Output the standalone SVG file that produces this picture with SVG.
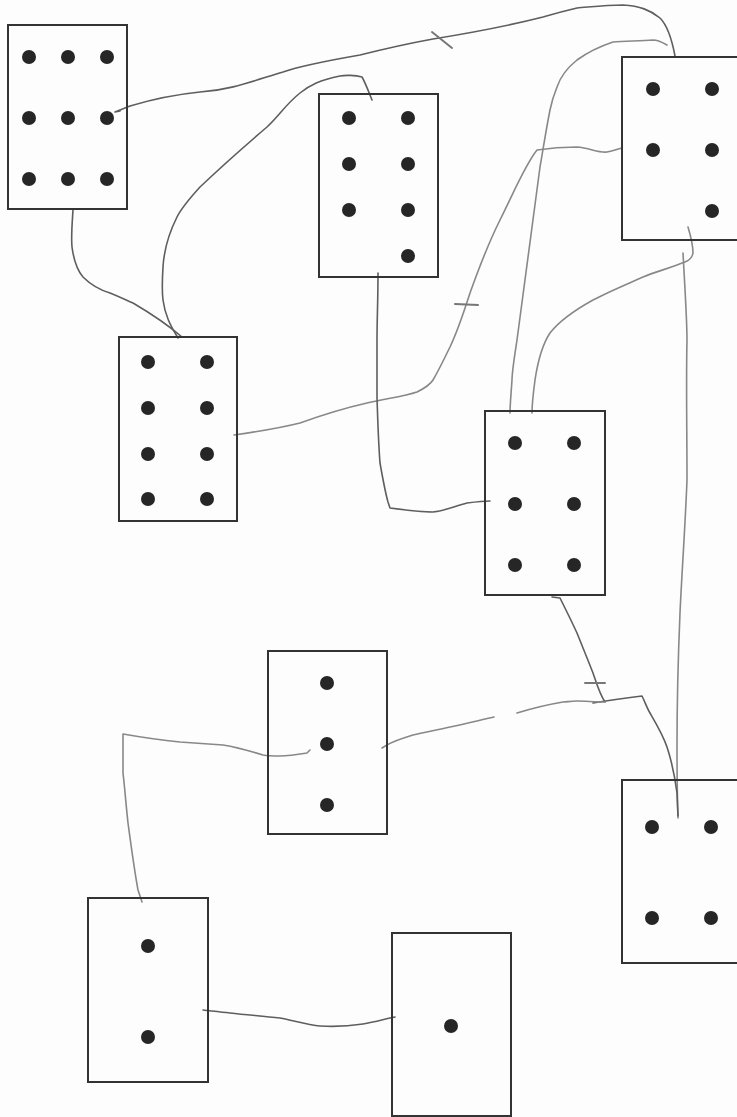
<svg xmlns="http://www.w3.org/2000/svg" width="737" height="1117" viewBox="0 0 737 1117">
<style>
.box{fill:none;stroke:#333;stroke-width:2}
.dot{fill:#262626}
.wire{fill:none;stroke:#888;stroke-width:1.6;stroke-linecap:round;stroke-linejoin:round}
.dark{stroke:#5e5e5e}
.tick{fill:none;stroke:#777;stroke-width:2;stroke-linecap:round}
</style>
<rect width="737" height="1117" fill="#fdfdfd"/>
<g id="connectors">
<path class="wire dark" d="M675,56 C672,40 668,26 660,18 C650,10 640,6 623,5 C605,5 590,7 577,8 C560,12 550,15 543,17 C500,28 470,33 433,39 C400,45 380,50 360,55 C320,62 300,66 283,72 C250,82 230,90 200,92 C170,95 150,100 130,106 L115,112 L120,111"/>
<path class="tick" d="M432,32 L452,48"/>
<path class="wire dark" d="M372,100 C368,90 365,82 362,77 C355,75 345,75 340,76 C320,80 310,85 300,93 C285,105 280,115 267,127 C240,150 220,168 200,187 C190,198 182,207 177,217 C168,235 164,250 163,267 C162,283 162,292 163,300 C165,315 170,325 178,338"/>
<path class="wire dark" d="M73,210 C72,225 71,237 72,247 C74,262 77,270 83,277 C92,286 100,290 110,293 C120,297 126,300 133,303 C150,313 168,325 182,337"/>
<path class="wire" d="M234,435 C255,432 280,428 300,423 C325,414 345,408 367,403 C390,398 405,396 417,392 C425,388 430,385 433,380 C440,368 445,357 450,347 C458,330 462,318 470,293 C480,265 490,240 500,220 C515,190 525,165 537,150 C550,148 565,147 577,147 C590,148 598,153 607,152 C613,151 618,149 622,148"/>
<path class="tick" d="M455,304 L478,305"/>
<path class="wire" d="M667,45 C662,42 658,40 653,40 C640,41 625,41 613,42 C598,47 588,52 577,60 C567,68 560,78 557,87 C553,97 551,105 550,110 C546,130 543,150 540,167 C532,230 524,290 517,340 C514,360 512,372 512,380 C511,395 510,405 510,413"/>
<path class="wire" d="M688,227 C691,237 693,245 693,253 C692,258 690,260 685,262 C670,268 655,272 643,277 C625,285 608,292 593,300 C575,310 560,320 550,333 C542,345 538,360 535,380 C533,395 532,405 532,413"/>
<path class="wire" d="M683,253 C685,290 687,320 687,340 C686,380 687,430 687,480 C685,530 682,570 680,613 C678,660 677,710 677,747 C677,770 677,790 678,818"/>
<path class="wire dark" d="M378,273 C378,300 377,320 377,340 C377,370 377,380 377,397 C378,430 379,450 380,463 C383,480 386,495 388,502 L390,508 C405,510 420,512 433,512 C445,511 455,506 467,503 C475,502 483,501 490,501"/>
<path class="wire dark" d="M552,597 L560,598 C566,610 571,620 577,633 C583,648 588,660 593,673 C597,685 600,695 605,702"/>
<path class="tick" d="M585,683 L605,683"/>
<path class="wire dark" d="M593,703 C610,700 625,698 642,696 C645,702 647,708 650,713 C657,725 663,735 667,747 C672,762 675,778 677,793 L678,816"/>
<path class="wire" d="M605,702 C595,702 585,701 577,701 C570,701 567,702 563,702 C545,705 530,709 517,713"/>
<path class="wire" d="M494,717 C480,720 470,723 450,727 C438,730 425,732 413,735 C400,739 392,742 387,745 L382,748"/>
<path class="wire" d="M310,750 L307,753 C295,755 288,756 280,756 C272,756 268,756 263,755 C250,751 235,747 223,745 C208,744 195,743 180,742 C160,740 140,737 123,734 C123,750 123,762 123,773 C125,790 126,805 128,823 C131,845 134,868 138,890 L142,902"/>
<path class="wire dark" d="M203,1010 C212,1011 220,1012 230,1013 C248,1015 262,1016 280,1018 C295,1021 308,1025 320,1026 C335,1027 350,1026 363,1024 C375,1022 385,1019 395,1017"/>
</g>
<g id="node-a">
<rect class="box" x="8" y="25" width="119" height="184"/>
<circle class="dot" cx="29" cy="57" r="7"/><circle class="dot" cx="68" cy="57" r="7"/><circle class="dot" cx="107" cy="57" r="7"/>
<circle class="dot" cx="29" cy="118" r="7"/><circle class="dot" cx="68" cy="118" r="7"/><circle class="dot" cx="107" cy="118" r="7"/>
<circle class="dot" cx="29" cy="179" r="7"/><circle class="dot" cx="68" cy="179" r="7"/><circle class="dot" cx="107" cy="179" r="7"/>
</g>
<g id="node-b">
<rect class="box" x="319" y="94" width="119" height="183"/>
<circle class="dot" cx="349" cy="118" r="7"/><circle class="dot" cx="408" cy="118" r="7"/>
<circle class="dot" cx="349" cy="164" r="7"/><circle class="dot" cx="408" cy="164" r="7"/>
<circle class="dot" cx="349" cy="210" r="7"/><circle class="dot" cx="408" cy="210" r="7"/>
<circle class="dot" cx="408" cy="256" r="7"/>
</g>
<g id="node-c">
<rect class="box" x="622" y="57" width="125" height="183"/>
<circle class="dot" cx="653" cy="89" r="7"/><circle class="dot" cx="712" cy="89" r="7"/>
<circle class="dot" cx="653" cy="150" r="7"/><circle class="dot" cx="712" cy="150" r="7"/>
<circle class="dot" cx="712" cy="211" r="7"/>
</g>
<g id="node-d">
<rect class="box" x="119" y="337" width="118" height="184"/>
<circle class="dot" cx="148" cy="362" r="7"/><circle class="dot" cx="207" cy="362" r="7"/>
<circle class="dot" cx="148" cy="408" r="7"/><circle class="dot" cx="207" cy="408" r="7"/>
<circle class="dot" cx="148" cy="454" r="7"/><circle class="dot" cx="207" cy="454" r="7"/>
<circle class="dot" cx="148" cy="499" r="7"/><circle class="dot" cx="207" cy="499" r="7"/>
</g>
<g id="node-e">
<rect class="box" x="485" y="411" width="120" height="184"/>
<circle class="dot" cx="515" cy="443" r="7"/><circle class="dot" cx="574" cy="443" r="7"/>
<circle class="dot" cx="515" cy="504" r="7"/><circle class="dot" cx="574" cy="504" r="7"/>
<circle class="dot" cx="515" cy="565" r="7"/><circle class="dot" cx="574" cy="565" r="7"/>
</g>
<g id="node-f">
<rect class="box" x="268" y="651" width="119" height="183"/>
<circle class="dot" cx="327" cy="683" r="7"/>
<circle class="dot" cx="327" cy="744" r="7"/>
<circle class="dot" cx="327" cy="805" r="7"/>
</g>
<g id="node-g">
<rect class="box" x="622" y="780" width="125" height="183"/>
<circle class="dot" cx="652" cy="827" r="7"/><circle class="dot" cx="711" cy="827" r="7"/>
<circle class="dot" cx="652" cy="918" r="7"/><circle class="dot" cx="711" cy="918" r="7"/>
</g>
<g id="node-h">
<rect class="box" x="88" y="898" width="120" height="184"/>
<circle class="dot" cx="148" cy="946" r="7"/>
<circle class="dot" cx="148" cy="1037" r="7"/>
</g>
<g id="node-i">
<rect class="box" x="392" y="933" width="119" height="183"/>
<circle class="dot" cx="451" cy="1026" r="7"/>
</g>
</svg>
